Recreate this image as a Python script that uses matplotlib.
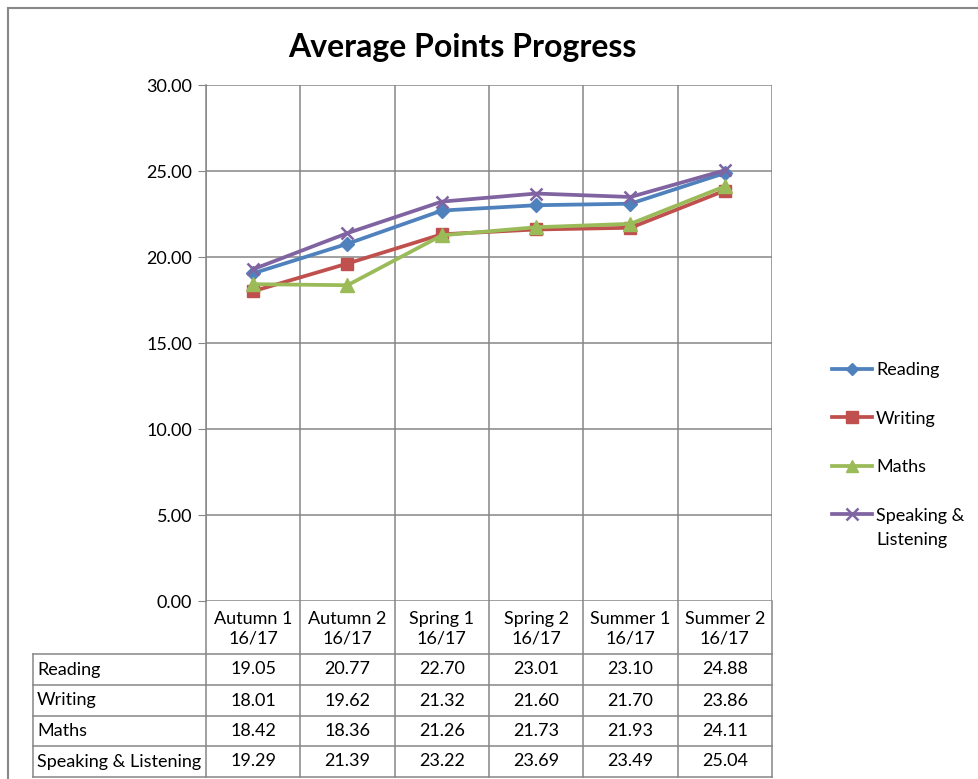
import matplotlib
matplotlib.use("Agg")
import matplotlib.pyplot as plt
from matplotlib.lines import Line2D

categories = ["Autumn 1\n16/17", "Autumn 2\n16/17", "Spring 1\n16/17",
              "Spring 2\n16/17", "Summer 1\n16/17", "Summer 2\n16/17"]
series_names = ["Reading", "Writing", "Maths", "Speaking & Listening"]
legend_first_lines = ["Reading", "Writing", "Maths", "Speaking &"]
legend_second_line = "Listening"
reading = [19.05, 20.77, 22.70, 23.01, 23.10, 24.88]
writing = [18.01, 19.62, 21.32, 21.60, 21.70, 23.86]
maths = [18.42, 18.36, 21.26, 21.73, 21.93, 24.11]
speaking = [19.29, 21.39, 23.22, 23.69, 23.49, 25.04]
y_ticks = [0, 5, 10, 15, 20, 25, 30]

values = [reading, writing, maths, speaking]
colors = ["#4F81BD", "#C0504D", "#9BBB59", "#8064A2"]
markers = ["D", "s", "^", "x"]
msizes = [7, 9, 10, 9]

FONT = ["Lato", "DejaVu Sans"]
plt.rcParams["font.family"] = FONT
FS = 13

W, H = 979, 779
fig = plt.figure(figsize=(W / 100, H / 100), dpi=100)

def px_rect(x0, y0, x1, y1):
    return [x0 / W, 1 - y1 / H, (x1 - x0) / W, (y1 - y0) / H]

# overlay axes in pixel coordinates for border and table
ov = fig.add_axes([0, 0, 1, 1])
ov.set_xlim(0, W)
ov.set_ylim(H, 0)
ov.axis("off")
grid_c = "#868686"
ov.plot([8, 8], [8, H], color="#888888", lw=1.5)
ov.plot([8, W], [8, 8], color="#888888", lw=1.5)

px_left, px_right, px_top, px_bottom = 206, 772, 85, 601
n = len(categories)
colw = (px_right - px_left) / n

ax = fig.add_axes(px_rect(px_left, px_top, px_right, px_bottom))
x = list(range(n))
for vals, c, m, ms, name in zip(values, colors, markers, msizes, series_names):
    ax.plot(x, vals, color=c, lw=2.7, marker=m, ms=ms, mew=1.8 if m == "x" else 1,
            mec=c, mfc=c, label=name, solid_joinstyle="round", zorder=3)
ax.set_xlim(-0.5, n - 0.5)
ax.set_ylim(0, 30)
ax.set_yticks(y_ticks)
ax.set_yticklabels([f"{v:.2f}" for v in y_ticks], fontsize=FS)
ax.set_xticks([i - 0.5 for i in range(n + 1)], minor=False)
ax.set_xticklabels([])
ax.tick_params(axis="x", length=0)
ax.tick_params(axis="y", length=6, color=grid_c, pad=4)
ax.grid(True, color=grid_c, lw=1.1, zorder=0)
for s in ["top", "right", "bottom"]:
    ax.spines[s].set_visible(False)
ax.spines["left"].set_color(grid_c)
ax.spines["left"].set_linewidth(1.1)
ax.set_axisbelow(True)

# data table
row_tops = [654, 685, 716, 746, 777]
tbl_left = 33
for i in range(n + 1):
    xx = px_left + i * colw
    ov.plot([xx, xx], [px_bottom, row_tops[-1]], color=grid_c, lw=1.1)
ov.plot([tbl_left, tbl_left], [row_tops[0], row_tops[-1]], color=grid_c, lw=1.1)
for yy in row_tops:
    ov.plot([tbl_left, px_right], [yy, yy], color=grid_c, lw=1.1)
for i, cat in enumerate(categories):
    ov.text(px_left + (i + 0.5) * colw, (px_bottom + row_tops[0]) / 2 + 1, cat,
            ha="center", va="center", fontsize=FS, linespacing=1.3)
for r, (name, vals) in enumerate(zip(series_names, values)):
    yc = (row_tops[r] + row_tops[r + 1]) / 2
    ov.text(tbl_left + 4, yc, name, ha="left", va="center", fontsize=FS)
    for i, v in enumerate(vals):
        ov.text(px_left + (i + 0.5) * colw, yc, f"{v:.2f}", ha="center",
                va="center", fontsize=FS)

# title
fig.text(462 / W, 1 - 47 / H, "Average Points Progress", ha="center", va="center",
         fontsize=23, fontweight="bold")

# legend
handles = [Line2D([0], [0], color=c, lw=2.7, marker=m, ms=ms * 0.9, mec=c, mfc=c,
                  mew=1.8 if m == "x" else 1)
           for c, m, ms in zip(colors, markers, msizes)]
leg = fig.legend(handles, legend_first_lines, loc="upper left",
                 bbox_to_anchor=(816 / W, 1 - 346 / H), frameon=False, fontsize=FS,
                 handlelength=2.2, handletextpad=0.22, labelspacing=1.8)

fig.canvas.draw()
last = leg.get_texts()[-1]
bb = last.get_window_extent()
inv = fig.transFigure.inverted()
(x0, y0) = inv.transform((bb.x0, bb.y0 - 24 + (bb.height / 2)))
fig.text(x0, y0, legend_second_line, ha="left", va="center", fontsize=FS)

fig.savefig("out.png", dpi=100)
